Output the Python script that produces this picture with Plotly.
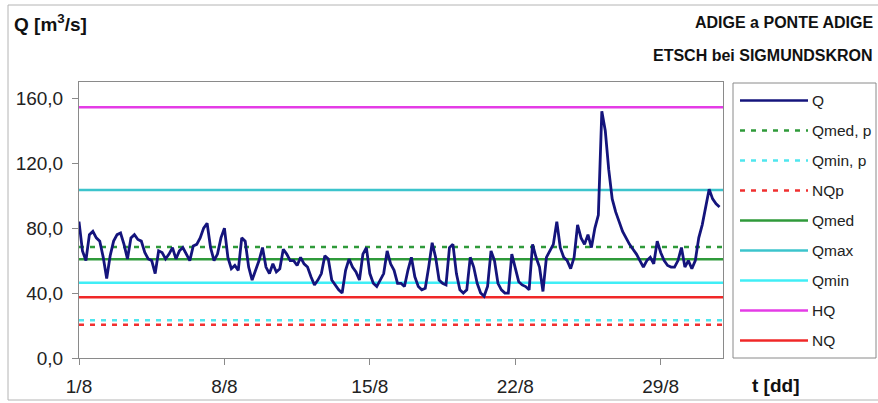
import plotly.graph_objects as go
import pandas as pd

# ---- data ----
start_date = "2010-08-01"
# Discharge Q [m3/s], 6 readings per day (00, 04, 08, 12, 16, 20 h), 1/8 .. 31/8
q_daily = [
    [84, 66, 60, 76, 78, 74],   # 1/8
    [72, 62, 49, 63, 72, 76],   # 2/8
    [77, 70, 61, 74, 76, 73],   # 3/8
    [72, 65, 61, 60, 52, 66],   # 4/8
    [65, 61, 64, 68, 61, 66],   # 5/8
    [68, 64, 60, 69, 70, 74],   # 6/8
    [80, 83, 68, 60, 64, 74],   # 7/8
    [80, 62, 55, 57, 54, 74],   # 8/8
    [72, 56, 48, 54, 60, 68],   # 9/8
    [56, 52, 58, 53, 55, 67],   # 10/8
    [64, 60, 60, 57, 62, 58],   # 11/8
    [56, 50, 45, 48, 52, 63],   # 12/8
    [61, 48, 45, 42, 40, 54],   # 13/8
    [61, 56, 53, 48, 64, 68],   # 14/8
    [52, 46, 44, 48, 52, 66],   # 15/8
    [58, 54, 46, 46, 44, 54],   # 16/8
    [62, 50, 44, 42, 43, 56],   # 17/8
    [71, 62, 48, 46, 45, 68],   # 18/8
    [70, 52, 42, 40, 42, 62],   # 19/8
    [56, 46, 40, 38, 44, 66],   # 20/8
    [60, 46, 42, 40, 40, 64],   # 21/8
    [56, 47, 45, 44, 42, 70],   # 22/8
    [62, 56, 41, 62, 66, 70],   # 23/8
    [84, 68, 62, 60, 55, 62],   # 24/8
    [82, 74, 70, 76, 68, 80],   # 25/8
    [88, 152, 140, 116, 98, 90],  # 26/8
    [84, 78, 74, 70, 67, 64],   # 27/8
    [60, 56, 60, 62, 58, 72],   # 28/8
    [65, 60, 57, 56, 56, 60],   # 29/8
    [68, 56, 60, 55, 60, 74],   # 30/8
    [82, 92, 104, 98, 95, 93],  # 31/8
]
hours_per_step = 4

ref_names = ["Qmed, p", "Qmin, p", "NQp", "Qmed", "Qmax", "Qmin", "HQ", "NQ"]
ref_values = [68.3, 23.2, 20.5, 60.9, 103.5, 46.4, 154.5, 37.4]
legend_order = ["Q", "Qmed, p", "Qmin, p", "NQp", "Qmed", "Qmax", "Qmin", "HQ", "NQ"]

tick_dates = ["2010-08-01", "2010-08-08", "2010-08-15", "2010-08-22", "2010-08-29"]
tick_labels = ["1/8", "8/8", "15/8", "22/8", "29/8"]
y_ticks = [0, 40, 80, 120, 160]

# ---- styles ----
DOTS = "5px,6px"
styles = {
    "Q":       dict(color="#14147c", dash="solid", width=2.8),
    "Qmed, p": dict(color="#2f9a3a", dash=DOTS, width=2.5),
    "Qmin, p": dict(color="#4fe6ee", dash=DOTS, width=2.5),
    "NQp":     dict(color="#f03030", dash=DOTS, width=2.5),
    "Qmed":    dict(color="#2f9a3a", dash="solid", width=2.5),
    "Qmax":    dict(color="#3cc4cc", dash="solid", width=2.5),
    "Qmin":    dict(color="#40eef6", dash="solid", width=2.5),
    "HQ":      dict(color="#e43ce6", dash="solid", width=2.5),
    "NQ":      dict(color="#f02828", dash="solid", width=2.5),
}

FONT = "Liberation Sans, Arial, sans-serif"
W, H = 878, 403
ML, MR, MT, MB = 79, 155, 82, 45
PW, PH = W - ML - MR, H - MT - MB


def px_x(px):
    return (px - ML) / PW


def px_y(py):
    return (H - MB - py) / PH


q_values = [v for day in q_daily for v in day]
times = pd.date_range(start_date, periods=len(q_values), freq=f"{hours_per_step}h")
x_start = pd.Timestamp(start_date)
x_end = x_start + pd.Timedelta(days=len(q_daily))

fig = go.Figure()
for name, val in zip(ref_names, ref_values):
    fig.add_trace(go.Scatter(
        x=[x_start, x_end], y=[val, val], mode="lines", name=name,
        line=styles[name], showlegend=False,
    ))
fig.add_trace(go.Scatter(
    x=times, y=q_values, mode="lines", name="Q",
    line=styles["Q"], showlegend=False,
))

# ---- hand-drawn legend (long line samples as in the reference) ----
shapes = [
    dict(type="rect", xref="paper", yref="paper",
         x0=px_x(8), x1=px_x(884), y0=px_y(400), y1=px_y(5),
         line=dict(color="#b4b4b4", width=1), layer="below"),
    dict(type="rect", xref="paper", yref="paper",
         x0=px_x(733), x1=px_x(876), y0=px_y(358), y1=px_y(83),
         line=dict(color="#8a8a8a", width=1), fillcolor="white", layer="below"),
]
annotations = []
leg_y0, leg_dy = 100.5, 30.0
for i, name in enumerate(legend_order):
    yy = px_y(leg_y0 + i * leg_dy)
    st = styles[name]
    shapes.append(dict(type="line", xref="paper", yref="paper",
                       x0=px_x(740), x1=px_x(808), y0=yy, y1=yy,
                       line=dict(color=st["color"], dash=st["dash"],
                                 width=2.5)))
    annotations.append(dict(text=name, xref="paper", yref="paper",
                            x=px_x(810), y=yy, xanchor="left", yanchor="middle",
                            showarrow=False,
                            font=dict(size=15.5, family=FONT, color="#222")))

annotations += [
    dict(text="<b>Q [m<sup>3</sup>/s]</b>", xref="paper", yref="paper",
         x=px_x(12), y=px_y(23), xanchor="left", yanchor="middle", showarrow=False,
         font=dict(size=19, family=FONT, color="#111")),
    dict(text="<b>ADIGE a PONTE ADIGE</b>", xref="paper", yref="paper",
         x=px_x(875), y=px_y(23), xanchor="right", yanchor="middle", showarrow=False,
         font=dict(size=16, family=FONT, color="#111")),
    dict(text="<b>ETSCH bei SIGMUNDSKRON</b>", xref="paper", yref="paper",
         x=px_x(875), y=px_y(55), xanchor="right", yanchor="middle", showarrow=False,
         font=dict(size=16, family=FONT, color="#111")),
    dict(text="<b>t [dd]</b>", xref="paper", yref="paper",
         x=px_x(750), y=px_y(385), xanchor="left", yanchor="middle", showarrow=False,
         font=dict(size=19, family=FONT, color="#111")),
]

axis_common = dict(
    showgrid=False, zeroline=False, automargin=False,
    showline=True, linecolor="#8a8a8a", linewidth=1, mirror=True,
    ticks="outside", ticklen=6, tickcolor="#8a8a8a",
    tickfont=dict(size=19, family=FONT, color="#222"),
    ticklabelstandoff=5,
)

fig.update_layout(
    width=W, height=H, autosize=False,
    margin=dict(l=ML, r=MR, t=MT, b=MB, pad=0, autoexpand=False),
    paper_bgcolor="white", plot_bgcolor="white",
    separators=",.",
    font=dict(family=FONT, size=18, color="#222"),
    showlegend=False,
    xaxis=dict(type="date", range=[x_start, x_end],
               tickvals=tick_dates, ticktext=tick_labels, **axis_common),
    yaxis=dict(range=[0, 170], tickvals=y_ticks, tickformat=".1f", **axis_common),
    shapes=shapes,
    annotations=annotations,
)

fig.write_html("out.html", config={"displayModeBar": False},
               post_script="document.body.style.margin='0px';")
